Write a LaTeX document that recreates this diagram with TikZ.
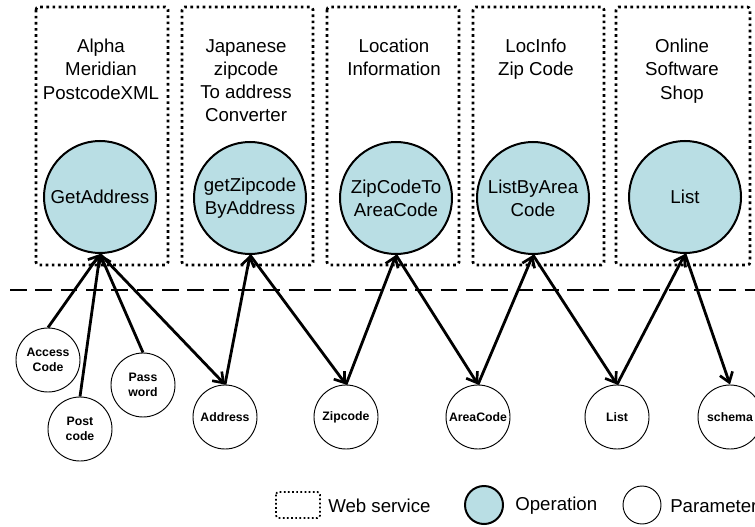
\documentclass[tikz,border=0pt]{standalone}
\usepackage{fontspec}
\setmainfont{Liberation Sans}
\usetikzlibrary{arrows.meta}
\definecolor{opblue}{RGB}{185,222,228}
\tikzset{
  wsbox/.style={draw, line width=2pt, dash pattern=on 2pt off 2.6pt, rounded corners=2pt},
  title/.style={anchor=north, align=center, inner sep=0pt, font=\fontsize{14}{17.4}\selectfont},
  opnode/.style={circle, draw, fill=opblue, line width=1.5pt, minimum size=84pt, inner sep=0pt, align=center, font=\fontsize{14}{17.4}\selectfont},
  parnode/.style={circle, draw, line width=0.7pt, minimum size=48pt, inner sep=0pt, align=center, font=\bfseries\fontsize{9.2}{11.3}\selectfont},
  link/.style={line width=2.1pt, -{Straight Barb[length=7pt,width=10pt,line width=2pt]}},
  legtext/.style={anchor=west, inner sep=0pt, font=\fontsize{14}{16}\selectfont}
}
\begin{document}
\begin{tikzpicture}[x=0.75pt, y=-0.75pt]
\useasboundingbox (0,0) rectangle (755,527);
% web service boxes
\draw[wsbox] (36,7) rectangle (168,265);
\draw[wsbox] (182,7) rectangle (313,265);
\draw[wsbox] (327,7) rectangle (459,265);
\draw[wsbox] (473,7) rectangle (604,265);
\draw[wsbox] (616,7) rectangle (750,265);
% titles
\node[title] (t1) at (101,39) {Alpha\\Meridian\\PostcodeXML};
\node[title] (t2) at (246,39) {Japanese\\zipcode\\To address\\Converter};
\node[title] (t3) at (394,39) {Location\\Information};
\node[title] (t4) at (536,39) {LocInfo\\Zip Code};
\node[title] (t5) at (682,39) {Online\\Software\\Shop};
% operations
\node[opnode] (ga) at (100,197) {GetAddress};
\node[opnode] (gz) at (250,198) {getZipcode\\ByAddress};
\node[opnode] (zc) at (396,198) {ZipCodeTo\\AreaCode};
\node[opnode] (lb) at (533,198) {ListByArea\\Code};
\node[opnode] (ls) at (685,197) {List};
% separator
\draw[line width=1.8pt, dash pattern=on 12.5pt off 6.5pt] (10,290) -- (755,290);
% parameters
\node[parnode] (ac) at (48,360) {Access\\Code};
\node[parnode] (pc) at (80,429) {Post\\code};
\node[parnode] (pw) at (143,385) {Pass\\word};
\node[parnode] (addr) at (225,417) {Address};
\node[parnode] (zip) at (346,417) {Zipcode};
\node[parnode] (area) at (478,417) {AreaCode};
\node[parnode] (lst) at (617,417) {List};
\node[parnode] (sch) at (730,417) {schema};
% connectors
\draw[link] (ac.north) -- (ga.south);
\draw[link] (pc.north) -- (ga.south);
\draw[link] (pw.north) -- (ga.south);
\draw[link] (ga.south) -- (addr.north);
\draw[link] (addr.north) -- (gz.south);
\draw[link] (gz.south) -- (zip.north);
\draw[link] (zip.north) -- (zc.south);
\draw[link] (zc.south) -- (area.north);
\draw[link] (area.north) -- (lb.south);
\draw[link] (lb.south) -- (lst.north);
\draw[link] (lst.north) -- (ls.south);
\draw[link] (ls.south) -- (sch.north);
% legend
\draw[wsbox, line width=1.3pt, dash pattern=on 1.3pt off 1.8pt] (276,492) rectangle (320,518);
\node[legtext] (lw) at (328,506) {Web service};
\node[circle, draw, fill=opblue, line width=1.5pt, minimum size=28.5pt, inner sep=0pt] (lo) at (484,505) {};
\node[legtext] (lot) at (515,506) {Operation};
\node[circle, draw, line width=0.7pt, minimum size=28.5pt, inner sep=0pt] (lp) at (642,505) {};
\node[legtext] (lpt) at (670,506) {Parameter};
\end{tikzpicture}
\end{document}
